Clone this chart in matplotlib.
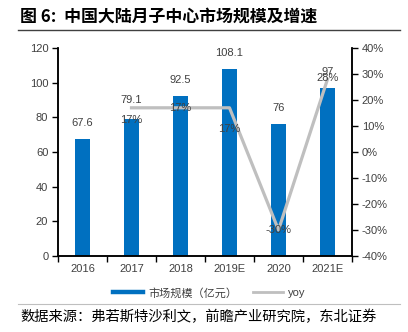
import numpy as np
import matplotlib.pyplot as plt
from matplotlib.lines import Line2D

plt.rcParams['font.family'] = ['Liberation Sans', 'Noto Sans CJK SC', 'DejaVu Sans']

years = ['2016', '2017', '2018', '2019E', '2020', '2021E']
market = [67.6, 79.1, 92.5, 108.1, 76, 97]
yoy_years = ['2017', '2018', '2019E', '2020', '2021E']
yoy = [17, 17, 17, -30, 28]
yoy_labels = ['17%', '17%', '17%', '-30%', '28%']

blue = '#0070C0'
grey = '#BFBFBF'
txt = '#404040'

fig = plt.figure(figsize=(4.08, 3.32), dpi=100)
ax = fig.add_axes([58/408, 1-256/332, 294/408, 208/332])
ax2 = ax.twinx()

x = np.arange(len(years))
ax.bar(x, market, width=0.29, color=blue, zorder=2)
for xi, v in zip(x, market):
    lab = ('%g' % v)
    dy = 8 if v != 79.1 else 10
    ax.annotate(lab, (xi, v), xytext=(0, dy), textcoords='offset points',
                ha='center', va='bottom', fontsize=8, color=txt)

xl = [years.index(y) for y in yoy_years]
ax2.plot(xl, yoy, color=grey, lw=2.3, zorder=3)
offs = [-9, 0, -15, 0, 1]
for xi, v, lab, o in zip(xl, yoy, yoy_labels, offs):
    ax2.annotate(lab, (xi, v), xytext=(0, o), textcoords='offset points',
                 ha='center', va='center', fontsize=8, color=txt)

ax.set_xlim(-0.5, len(years) - 0.5)
ax.set_ylim(0, 120)
ax.set_yticks(np.arange(0, 121, 20))
ax2.set_ylim(-40, 40)
ax2.set_yticks(np.arange(-40, 41, 10))
ax2.set_yticklabels(['%d%%' % t for t in np.arange(-40, 41, 10)])

ax.set_xticks(x)
ax.set_xticklabels(years)
ax.set_xticks(np.arange(-0.5, len(years), 1), minor=True)
ax.tick_params(axis='x', which='major', length=0, labelsize=8, labelcolor=txt, pad=6)
ax.tick_params(axis='x', which='minor', length=4, direction='out', width=1)
ax.tick_params(axis='y', length=4, width=1, labelsize=8, labelcolor=txt, pad=3)
ax2.tick_params(axis='y', length=4, width=1, labelsize=8, labelcolor=txt, pad=3)

for a in (ax, ax2):
    a.spines['top'].set_visible(False)
    for s in ('left', 'right', 'bottom'):
        a.spines[s].set_linewidth(1.1)
        a.spines[s].set_color('black')
ax.set_zorder(ax2.get_zorder() - 1)
ax.patch.set_visible(False)

handles = [Line2D([0], [0], color=blue, lw=3.2), Line2D([0], [0], color=grey, lw=2)]
fig.legend(handles, ['市场规模（亿元）', 'yoy'], loc='center', bbox_to_anchor=(209/408, 1-293/332),
           ncol=2, frameon=False, fontsize=8, handlelength=2.7, columnspacing=1.4,
           handletextpad=0.45, labelcolor=txt, borderpad=0, borderaxespad=0)

fig.text(20/408, 1-17/332, '图 6:  中国大陆月子中心市场规模及增速', fontsize=12.2, fontweight='bold',
         va='center', ha='left', family=['Noto Sans CJK SC'])
fig.add_artist(Line2D([18/408, 400/408], [1-30/332, 1-30/332], color='#404040', lw=1))
fig.add_artist(Line2D([18/408, 400/408], [1-304/332, 1-304/332], color='#BFBFBF', lw=0.8))
fig.text(20/408, 1-317/332, '数据来源：弗若斯特沙利文，前瞻产业研究院，东北证券', fontsize=10.3,
         va='center', ha='left', family=['Noto Sans CJK SC'])

fig.savefig('out.png', dpi=100)
